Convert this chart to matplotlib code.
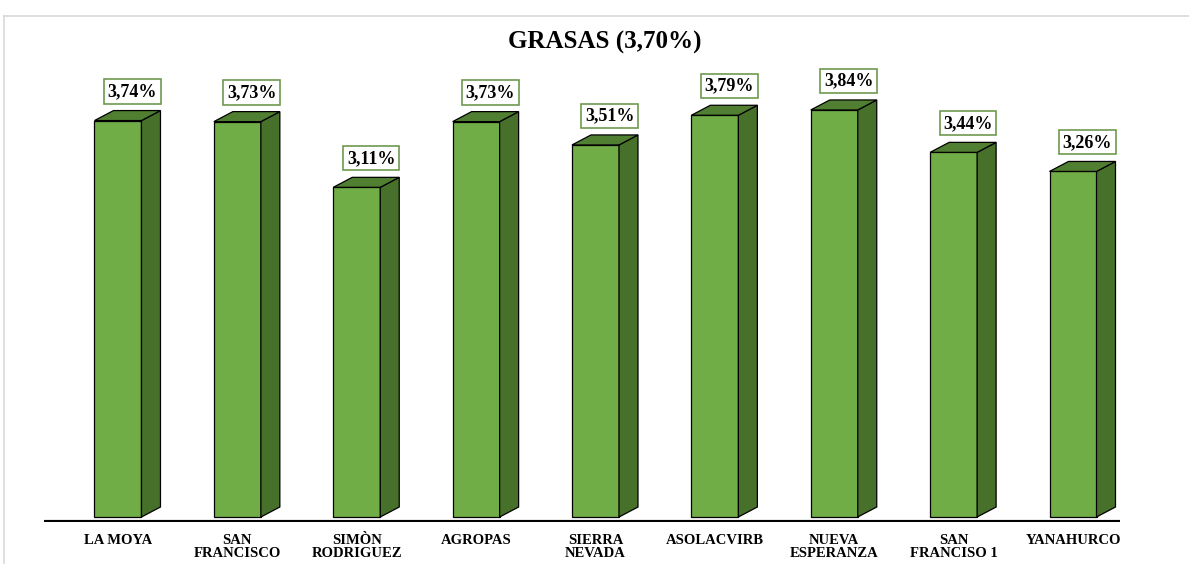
import matplotlib.pyplot as plt
from matplotlib.patches import Polygon
from matplotlib.lines import Line2D

# datos
categorias = ["LA MOYA", "SAN\nFRANCISCO", "SIMÒN\nRODRIGUEZ", "AGROPAS", "SIERRA\nNEVADA",
              "ASOLACVIRB", "NUEVA\nESPERANZA", "SAN\nFRANCISO 1", "YANAHURCO"]
valores = [3.74, 3.73, 3.11, 3.73, 3.51, 3.79, 3.84, 3.44, 3.26]
etiquetas = ["3,74%", "3,73%", "3,11%", "3,73%", "3,51%", "3,79%", "3,84%", "3,44%", "3,26%"]
titulo = "GRASAS (3,70%)"

c_frente = "#70AD47"
c_lado = "#47702A"
c_tapa = "#507F31"

fig = plt.figure(figsize=(11.89, 5.64), dpi=100)
ax = fig.add_axes([44 / 1189, 42 / 564, 1076 / 1189, 462 / 564])

# borde gris del grafico
fig.add_artist(Line2D([4 / 1189, 4 / 1189], [0, 548 / 564], color="#d9d9d9", lw=1.2))
fig.add_artist(Line2D([4 / 1189, 1], [548 / 564, 548 / 564], color="#d9d9d9", lw=1.2))

w = 47 / 119.4      # ancho del frente
dx = 19 / 119.4     # profundidad en x
dy = 10 / 106       # profundidad en y

for i, v in enumerate(valores):
    x0, x1 = i - w / 2, i + w / 2
    ax.add_patch(Polygon([(x0, 0), (x1, 0), (x1, v), (x0, v)], closed=True,
                         fc=c_frente, ec="black", lw=0.9, zorder=3))
    ax.add_patch(Polygon([(x1, 0), (x1 + dx, dy), (x1 + dx, v + dy), (x1, v)], closed=True,
                         fc=c_lado, ec="black", lw=0.9, zorder=3))
    ax.add_patch(Polygon([(x0, v), (x1, v), (x1 + dx, v + dy), (x0 + dx, v + dy)], closed=True,
                         fc=c_tapa, ec="black", lw=0.9, zorder=3))
    ax.text(i + 0.12, v + dy + 0.1, etiquetas[i], ha="center", va="bottom",
            fontsize=13, fontweight="bold", family="Liberation Serif", zorder=5,
            bbox=dict(boxstyle="square,pad=0.2", fc="white", ec="#6E9A4E", lw=1.2))

ax.set_xlim(-74 / 119.4, 8 + 47 / 119.4)
ax.set_ylim(-5 / 106, -5 / 106 + 462 / 106)

ax.axhline(-5 / 106, color="black", lw=3, zorder=4)
for s in ax.spines.values():
    s.set_visible(False)
ax.set_yticks([])
ax.set_xticks(range(len(categorias)))
ax.set_xticklabels(categorias, fontsize=10.5, fontweight="bold", family="Liberation Serif",
                   linespacing=0.95)
ax.tick_params(axis="x", length=0, pad=9)

fig.text(605 / 1189, 1 - 42 / 564, titulo, ha="center", va="center", fontsize=18,
         fontweight="bold", family="Liberation Serif")

fig.savefig("out.png", dpi=100)
